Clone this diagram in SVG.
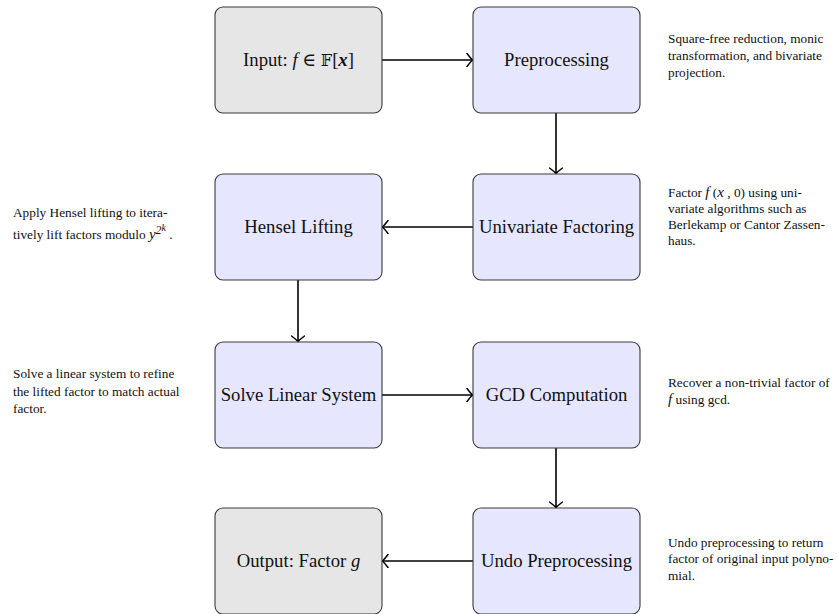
<svg xmlns="http://www.w3.org/2000/svg" width="837" height="614" viewBox="0 0 837 614">
<style>
.box{stroke:#3a3a3a;stroke-width:1.1}
.g{fill:#e6e6e6}
.b{fill:#e6e6ff}
.t{font-family:"Liberation Serif","DejaVu Serif",serif;font-size:18.7px;fill:#111;text-anchor:middle}
.n{font-family:"Liberation Serif","DejaVu Serif",serif;font-size:13.3px;fill:#111}
.i{font-style:italic}
.c{fill:none;stroke:#000;stroke-width:1.6}
</style>
<defs>
<marker id="ah" viewBox="-7 -7 9 14" markerWidth="9" markerHeight="14" refX="0" refY="0" orient="auto" markerUnits="userSpaceOnUse">
<path d="M-5,-6.5 Q-1.5,-1.8 0.6,0 Q-1.5,1.8 -5,6.5" fill="none" stroke="#000" stroke-width="1.5" stroke-linecap="round"/>
</marker>
</defs>
<g id="connectors">
<line class="c" x1="382" y1="60" x2="472" y2="60" marker-end="url(#ah)"/>
<line class="c" x1="556" y1="113" x2="556" y2="173" marker-end="url(#ah)"/>
<line class="c" x1="473" y1="227" x2="383" y2="227" marker-end="url(#ah)"/>
<line class="c" x1="298" y1="280" x2="298" y2="341" marker-end="url(#ah)"/>
<line class="c" x1="382" y1="395" x2="472" y2="395" marker-end="url(#ah)"/>
<line class="c" x1="556" y1="448" x2="556" y2="507" marker-end="url(#ah)"/>
<line class="c" x1="473" y1="561" x2="383" y2="561" marker-end="url(#ah)"/>
</g>
<g id="input">
<rect class="box g" x="215" y="7" width="167" height="106" rx="8"/>
<text class="t" x="298.5" y="66">Input: <tspan class="i">f</tspan> ∈ <tspan font-family="DejaVu Serif,DejaVu Sans,serif" font-size="16">𝔽</tspan>[<tspan class="i" font-weight="bold">x</tspan>]</text>
</g>
<g id="preprocessing">
<rect class="box b" x="473" y="7" width="167" height="106" rx="8"/>
<text class="t" x="556.5" y="66">Preprocessing</text>
</g>
<g id="univariate">
<rect class="box b" x="473" y="174" width="167" height="106" rx="8"/>
<text class="t" x="556.5" y="233">Univariate Factoring</text>
</g>
<g id="hensel">
<rect class="box b" x="215" y="174" width="167" height="106" rx="8"/>
<text class="t" x="298.5" y="233">Hensel Lifting</text>
</g>
<g id="solve">
<rect class="box b" x="215" y="342" width="167" height="106" rx="8"/>
<text class="t" x="298.5" y="401">Solve Linear System</text>
</g>
<g id="gcd">
<rect class="box b" x="473" y="342" width="167" height="106" rx="8"/>
<text class="t" x="556.5" y="401">GCD Computation</text>
</g>
<g id="undo">
<rect class="box b" x="473" y="508" width="167" height="106" rx="8"/>
<text class="t" x="556.5" y="567">Undo Preprocessing</text>
</g>
<g id="output">
<rect class="box g" x="215" y="508" width="167" height="106" rx="8"/>
<text class="t" x="298.5" y="567">Output: Factor <tspan class="i">g</tspan></text>
</g>
<g id="notes">
<text class="n" x="668" y="43">Square-free reduction, monic</text>
<text class="n" x="668" y="60">transformation, and bivariate</text>
<text class="n" x="668" y="77">projection.</text>

<text class="n" x="668" y="197">Factor <tspan class="i" font-size="15">f</tspan> (<tspan class="i" font-size="15">x</tspan> , 0)  using uni-</text>
<text class="n" x="668" y="213">variate algorithms such as</text>
<text class="n" x="668" y="229">Berlekamp or Cantor Zassen-</text>
<text class="n" x="668" y="245">haus.</text>

<text class="n" x="13" y="217">Apply Hensel lifting to itera-</text>
<text class="n" x="13" y="239">tively lift factors modulo <tspan class="i" font-size="15">y</tspan><tspan class="i" font-size="12" dy="-5">2</tspan><tspan class="i" font-size="10" dy="-3">k</tspan><tspan dy="8"> .</tspan></text>

<text class="n" x="13" y="378">Solve a linear system to refine</text>
<text class="n" x="13" y="396">the lifted factor to match actual</text>
<text class="n" x="13" y="413">factor.</text>

<text class="n" x="668" y="387">Recover a non-trivial factor of</text>
<text class="n" x="668" y="404"><tspan class="i" font-size="15">f</tspan>  using gcd.</text>

<text class="n" x="668" y="547">Undo preprocessing to return</text>
<text class="n" x="668" y="563">factor of original input polyno-</text>
<text class="n" x="668" y="580">mial.</text>
</g>
</svg>
